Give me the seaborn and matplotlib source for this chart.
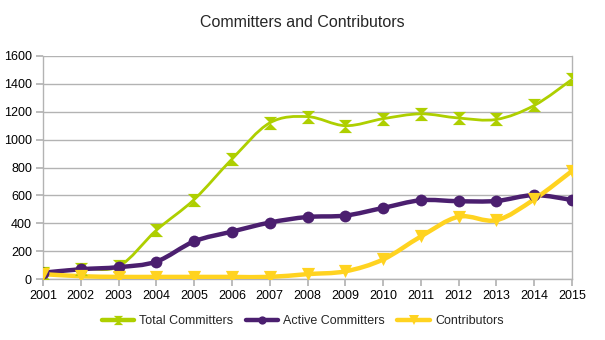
import numpy as np
import pandas as pd
import matplotlib
matplotlib.use("Agg")
import matplotlib.pyplot as plt
from matplotlib.path import Path
from matplotlib.patches import PathPatch
from matplotlib.lines import Line2D
import seaborn as sns

years = list(range(2001, 2016))
total_committers = [40, 75, 90, 350, 570, 860, 1120, 1165, 1100, 1150, 1185, 1155, 1145, 1245, 1432]
active_committers = [45, 70, 85, 125, 270, 340, 405, 445, 455, 510, 565, 558, 560, 602, 567]
contributors = [35, 20, 15, 15, 15, 15, 15, 35, 55, 140, 305, 447, 422, 572, 775]

series_names = ["Total Committers", "Active Committers", "Contributors"]
colors = ["#aecf00", "#4b1f6f", "#ffd320"]

sns.set_theme(style="white")
plt.rcParams['font.family'] = ['Liberation Sans', 'DejaVu Sans']

hourglass = Path([(-1, 1), (1, 1), (-1, -1), (1, -1), (-1, 1)],
                 [Path.MOVETO, Path.LINETO, Path.LINETO, Path.LINETO, Path.CLOSEPOLY])
markers = [hourglass, "o", "v"]
lws = [2.0, 3.2, 3.2]
msizes = [9.5, 8.5, 9.5]

df = pd.DataFrame({"year": years, series_names[0]: total_committers,
                   series_names[1]: active_committers, series_names[2]: contributors})
long = df.melt(id_vars="year", var_name="series", value_name="value")

fig = plt.figure(figsize=(6.05, 3.4), dpi=100)
ax = fig.add_axes([43/605, 61/340, (572-43)/605, (279-56)/340])


def smooth_path(x, y):
    x = np.asarray(x, float); y = np.asarray(y, float)
    verts = [(x[0], y[0])]
    codes = [Path.MOVETO]
    n = len(x)
    for i in range(n - 1):
        x0, y0 = (x[i-1], y[i-1]) if i > 0 else (x[i], y[i])
        x3, y3 = (x[i+2], y[i+2]) if i + 2 < n else (x[i+1], y[i+1])
        t = 1/6
        c1 = (x[i] + (x[i+1]-x0)*t, y[i] + (y[i+1]-y0)*t)
        c2 = (x[i+1] - (x3-x[i])*t, y[i+1] - (y3-y[i])*t)
        verts += [c1, c2, (x[i+1], y[i+1])]
        codes += [Path.CURVE4]*3
    return Path(verts, codes)

for name, c, lw in zip(series_names, colors, lws):
    p = smooth_path(df["year"], df[name])
    ax.add_patch(PathPatch(p, facecolor="none", edgecolor=c, lw=lw, zorder=3,
                           capstyle="round", joinstyle="round"))

for name, c, m, ms in zip(series_names, colors, markers, msizes):
    sub = long[long["series"] == name]
    sns.scatterplot(data=sub, x="year", y="value", color=c, marker=m, s=ms**2,
                    edgecolor=c, linewidth=0, ax=ax, zorder=4, legend=False)

ax.set_xlim(2001, 2015)
ax.set_ylim(0, 1600)
ax.set_xticks(years)
ax.set_xticklabels([str(y) for y in years])
ax.set_yticks(range(0, 1601, 200))
ax.set_xlabel("")
ax.set_ylabel("")
ax.grid(axis="y", color="#b3b3b3", lw=1)
ax.set_axisbelow(True)
for s in ax.spines.values():
    s.set_color("#b3b3b3")
    s.set_linewidth(1)
ax.spines["top"].set_visible(False)
ax.tick_params(axis="both", length=5, color="#b3b3b3", labelsize=9, labelcolor="black")
ax.tick_params(axis="x", direction="out", bottom=True, pad=3)
ax.tick_params(axis="y", direction="out", left=True, pad=3)

fig.suptitle("Committers and Contributors", y=0.955, fontsize=11.5)

handles = [Line2D([0], [0], color=c, lw=3.2, marker=m, markersize=ms*0.7, markeredgewidth=0)
           for c, m, ms in zip(colors, markers, msizes)]
fig.legend(handles, series_names, loc="center", bbox_to_anchor=(0.5, (340-321)/340),
           ncol=3, frameon=False, fontsize=9, handlelength=2.6, columnspacing=1.0, handletextpad=0.4)

fig.savefig("out.png", dpi=100)
